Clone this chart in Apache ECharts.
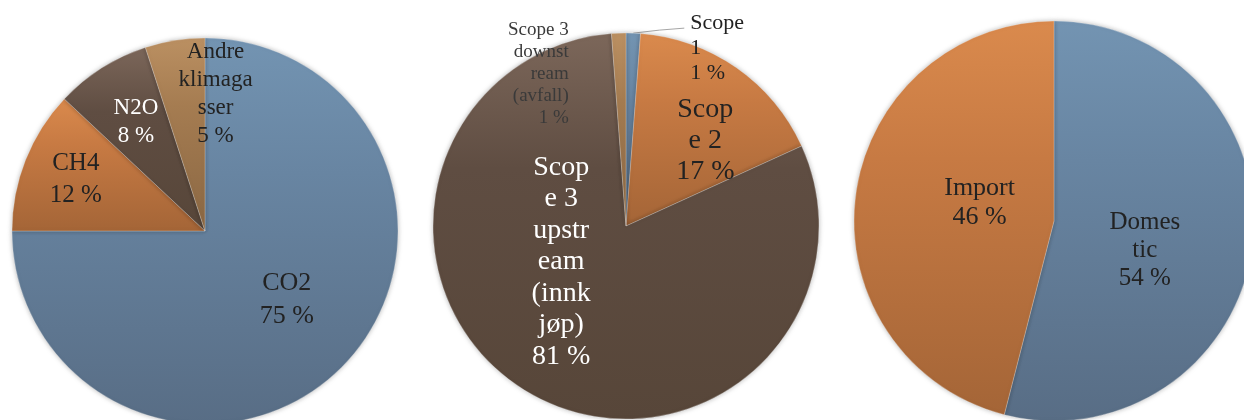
<!DOCTYPE html>
<html>
<head>
<meta charset="utf-8">
<script src="https://cdn.jsdelivr.net/npm/echarts@6/dist/echarts.min.js"></script>
<style>
  html, body { margin: 0; padding: 0; background: #ffffff; }
  #chart { width: 1244px; height: 420px; }
</style>
</head>
<body>
<div id="chart"></div>
<script>
// Greenhouse gases (share of emissions)
const gasLabels = ['CO2', 'CH4', 'N2O', 'Andre\nklimaga\nsser'];
const gasValues = [75, 12, 8, 5];

// Emissions by scope
const scopeLabels = ['Scope\n1', 'Scop\ne 2', 'Scop\ne 3\nupstr\neam\n(innk\njøp)', 'Scope 3\ndownst\nream\n(avfall)'];
const scopeValues = [1.2, 17.0, 80.6, 1.2];

// Domestic vs. imported
const originLabels = ['Domes\ntic', 'Import'];
const originValues = [54, 46];

// Slice fills: light at the top, shading down
const fills = {
  blue:   ['#7394b2', '#6885a2', '#586d85'],
  orange: ['#da8a4d', '#c77a43', '#a46537'],
  brown:  ['#7c675a', '#5f4d42', '#574639'],
  tan:    ['#bb9062', '#a57c51', '#8a6743']
};

function shade(key) {
  const c = fills[key];
  return {
    type: 'linear', x: 0, y: 0, x2: 0, y2: 1,
    colorStops: [{ offset: 0, color: c[0] }, { offset: 0.35, color: c[1] }, { offset: 1, color: c[2] }]
  };
}

const FONT = 'Liberation Serif';
const DARK = '#222222';

// placement: inside labels sit on the slice's mid-angle at frac * radius, nudged by dx/dy;
// outside labels are offset from the slice's outer edge point.
function makePie(names, values, colorKeys, styles, place, center, radius) {
  const total = values.reduce((a, b) => a + b, 0);
  const mids = [];
  let acc = 0;
  values.forEach(v => { mids.push((acc + v / 2) / total * 2 * Math.PI); acc += v; });

  const data = names.map((n, i) => ({
    name: n,
    value: values[i],
    itemStyle: { color: shade(colorKeys[i]) },
    label: {
      show: true,
      position: place[i].outside ? 'outside' : 'inside',
      color: styles[i].color,
      fontSize: styles[i].size,
      lineHeight: styles[i].lh,
      fontFamily: FONT,
      align: place[i].align || 'center'
    },
    labelLine: {
      show: !!place[i].line,
      lineStyle: { color: '#a6a6a6', width: 1 }
    }
  }));

  return {
    type: 'pie',
    center: center,
    radius: radius,
    startAngle: 90,
    clockwise: true,
    avoidLabelOverlap: false,
    silent: true,
    animation: false,
    data: data,
    itemStyle: {
      borderColor: 'rgba(255,255,255,0.3)',
      borderWidth: 0.8,
      shadowBlur: 5,
      shadowColor: 'rgba(0,0,0,0.28)'
    },
    label: {
      formatter: p => p.name + '\n' + Math.round(p.value / total * 100) + ' %'
    },
    emphasis: { disabled: true },
    labelLayout: function (params) {
      const i = params.dataIndex;
      const pl = place[i];
      const a = mids[i];
      if (pl.outside) {
        const ex = center[0] + radius * Math.sin(a);
        const ey = center[1] - radius * Math.cos(a);
        const out = {
          x: ex + pl.dx, y: ey + pl.dy,
          align: pl.align, verticalAlign: 'middle'
        };
        if (pl.line) {
          out.labelLinePoints = [[ex, ey], [ex + pl.line[0][0], ey + pl.line[0][1]], [ex + pl.line[1][0], ey + pl.line[1][1]]];
        }
        return out;
      }
      return {
        x: center[0] + pl.frac * radius * Math.sin(a) + pl.dx,
        y: center[1] - pl.frac * radius * Math.cos(a) + pl.dy,
        align: 'center', verticalAlign: 'middle'
      };
    }
  };
}

const chart = echarts.init(document.getElementById('chart'), null, { renderer: 'canvas' });

chart.setOption({
  backgroundColor: '#ffffff',
  animation: false,
  series: [
    makePie(gasLabels, gasValues,
      ['blue', 'orange', 'brown', 'tan'],
      [{ color: DARK, size: 26, lh: 33 }, { color: DARK, size: 25, lh: 32 },
       { color: '#ffffff', size: 23, lh: 28 }, { color: DARK, size: 23, lh: 28 }],
      [{ frac: 0.555, dx: 6, dy: -7 }, { frac: 0.72, dx: 0, dy: 0 }, { frac: 0.668, dx: 0, dy: 0 }, { frac: 0.71, dx: 32, dy: -2 }],
      [205, 231], 193),
    makePie(scopeLabels, scopeValues,
      ['blue', 'orange', 'brown', 'tan'],
      [{ color: DARK, size: 22, lh: 25 }, { color: DARK, size: 28, lh: 31 },
       { color: '#ffffff', size: 28, lh: 31.5 }, { color: '#3a3a3a', size: 19, lh: 22 }],
      [{ outside: true, align: 'left', dx: 57, dy: 15, line: [[26, -3], [51, -5]] },
       { frac: 0.6, dx: 13, dy: 10 },
       { frac: 0.385, dx: -27, dy: -28 },
       { outside: true, align: 'right', dx: -50, dy: 41 }],
      [626, 226], 193),
    makePie(originLabels, originValues,
      ['blue', 'orange'],
      [{ color: DARK, size: 25, lh: 28 }, { color: DARK, size: 26, lh: 29 }],
      [{ frac: 0.478, dx: -4, dy: 17 }, { frac: 0.38, dx: 1, dy: -9 }],
      [1054, 221], 200)
  ]
});
</script>
</body>
</html>
